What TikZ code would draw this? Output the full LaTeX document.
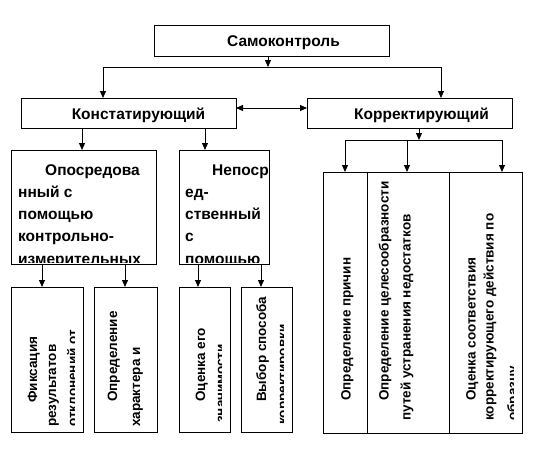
\documentclass[tikz,border=0pt]{standalone}
\usepackage{fontspec}
\setmainfont{Liberation Sans}
\usetikzlibrary{arrows.meta}
\begin{document}
\begin{tikzpicture}[x=1pt,y=-1pt,
  box/.style={draw, line width=1pt, inner sep=0pt, outer sep=0pt, anchor=north west},
  lbl/.style={font=\fontsize{15.5}{18}\bfseries\selectfont, inner sep=0pt, anchor=base},
  ptxt/.style={font=\fontsize{15.5}{18}\bfseries\selectfont, inner sep=0pt, anchor=base west},
  rtxt/.style={font=\fontsize{13.5}{16}\bfseries\selectfont, inner sep=0pt, anchor=base west, rotate=90},
  arr/.style={line width=1pt, -{Triangle[length=7pt,width=6pt]}},
  darr/.style={line width=1pt, {Triangle[length=7pt,width=6pt]}-{Triangle[length=7pt,width=6pt]}},
  ln/.style={line width=1pt}]
\useasboundingbox (0,0) rectangle (533,474);

% boxes
\node[box, minimum width=235pt, minimum height=31pt] (top) at (154,25) {};
\node[box, minimum width=215pt, minimum height=30pt] (konst) at (21,98) {};
\node[box, minimum width=205pt, minimum height=30pt] (korr) at (307,98) {};
\node[box, minimum width=145pt, minimum height=114pt] (up1) at (11,150) {};
\node[box, minimum width=90pt, minimum height=114pt] (up2) at (179,150) {};
\node[box, minimum width=72pt, minimum height=145pt] (lb1) at (11,287) {};
\node[box, minimum width=63pt, minimum height=145pt] (lb2) at (94,287) {};
\node[box, minimum width=51pt, minimum height=145pt] (lb3) at (179,287) {};
\node[box, minimum width=51pt, minimum height=145pt] (lb4) at (241,287) {};
\node[box, minimum width=44pt, minimum height=261pt] (c1) at (323,172) {};
\node[box, minimum width=82pt, minimum height=261pt] (c2) at (367,172) {};
\node[box, minimum width=73pt, minimum height=261pt] (c3) at (449,172) {};

% titles
\node[lbl] (ttop) at (283.5,46) {Самоконтроль};
\node[lbl] (tkonst) at (138.5,119) {Констатирующий};
\node[lbl] (tkorr) at (421.5,119) {Корректирующий};

% upper boxes text
\begin{scope}
\clip (12,151) rectangle (155,262);
\node[ptxt] (u1a) at (45,175) {Опосредова};
\node[ptxt] (u1b) at (18,197) {нный с};
\node[ptxt] (u1c) at (18,219) {помощью};
\node[ptxt] (u1d) at (18,241) {контрольно-};
\node[ptxt] (u1e) at (18,264) {измерительных};
\end{scope}
\begin{scope}
\clip (180,151) rectangle (268,262);
\node[ptxt] (u2a) at (212,175) {Непоср};
\node[ptxt] (u2b) at (185,197) {ед-};
\node[ptxt] (u2c) at (185,219) {ственный};
\node[ptxt] (u2d) at (185,241) {с};
\node[ptxt] (u2e) at (185,264) {помощью};
\end{scope}

% lower boxes rotated text
\begin{scope}
\clip (12,288) rectangle (74,431);
\node[rtxt] (l1a) at (37,403) {Фиксация};
\node[rtxt] (l1b) at (56,427) {результатов};
\node[rtxt] (l1c) at (77,427) {отклонений от};
\end{scope}
\begin{scope}
\clip (95,288) rectangle (150,431);
\node[rtxt] (l2a) at (117,402) {Определение};
\node[rtxt] (l2b) at (140,427) {характера и};
\end{scope}
\begin{scope}
\clip (180,288) rectangle (221,431);
\node[rtxt] (l3a) at (205,402) {Оценка его};
\node[rtxt] (l3b) at (225,423) {значимости};
\end{scope}
\begin{scope}
\clip (242,288) rectangle (283,431);
\node[rtxt] (l4a) at (266,402) {Выбор способа};
\node[rtxt] (l4b) at (287,425) {корректировки};
\end{scope}

% right columns
\node[rtxt] (c1a) at (350.5,401) {Определение причин};
\node[rtxt] (c2a) at (388.5,401) {Определение целесообразности};
\node[rtxt] (c2b) at (410.5,421) {путей устранения недостатков};
\begin{scope}
\clip (450,173) rectangle (513,432);
\node[rtxt] (c3a) at (475.5,401) {Оценка соответствия};
\node[rtxt] (c3b) at (493.5,421) {корректирующего действия по};
\node[rtxt] (c3c) at (517,421) {образцу};
\end{scope}

% connectors
\coordinate (j1) at (268,67);
\coordinate (jl) at (103,67);
\coordinate (jr) at (441,67);
\draw[arr] (top.south -| j1) -- (j1);
\draw[ln] (jl) -- (jr);
\draw[arr] (jl) -- (jl |- konst.north);
\draw[arr] (jr) -- (jr |- korr.north);
\coordinate (dy) at (0,108);
\draw[darr] (konst.east |- dy) -- (korr.west |- dy);

\coordinate (k1) at (82,0);
\coordinate (k2) at (205,0);
\draw[arr] (konst.south -| k1) -- (up1.north -| k1);
\draw[arr] (konst.south -| k2) -- (up2.north -| k2);

\coordinate (j2) at (419,140);
\coordinate (j2l) at (345,140);
\coordinate (j2m) at (407,140);
\coordinate (j2r) at (502,140);
\draw[arr] (korr.south -| j2) -- (j2);
\draw[ln] (j2l) -- (j2r);
\draw[arr] (j2l) -- (j2l |- c1.north);
\draw[arr] (j2m) -- (j2m |- c2.north);
\draw[arr] (j2r) -- (j2r |- c3.north);

\coordinate (m1) at (42,0);
\coordinate (m2) at (125,0);
\coordinate (m3) at (198,0);
\coordinate (m4) at (261,0);
\draw[arr] (up1.south -| m1) -- (lb1.north -| m1);
\draw[arr] (up1.south -| m2) -- (lb2.north -| m2);
\draw[arr] (up2.south -| m3) -- (lb3.north -| m3);
\draw[arr] (up2.south -| m4) -- (lb4.north -| m4);
\end{tikzpicture}
\end{document}
